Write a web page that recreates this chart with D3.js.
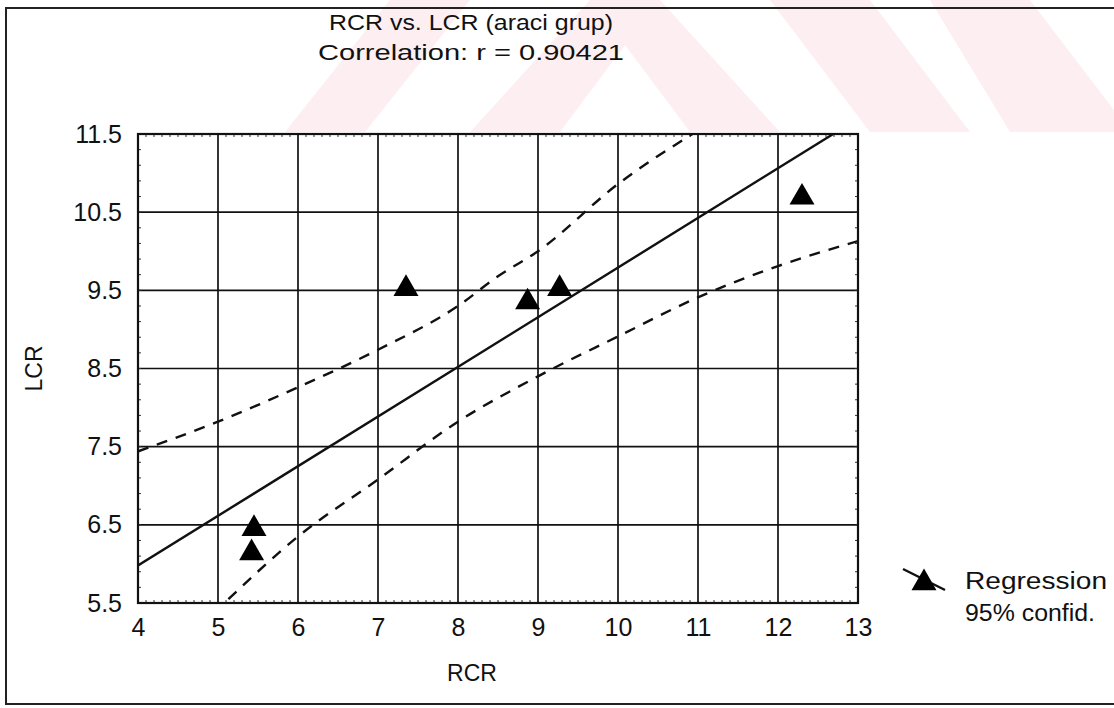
<!DOCTYPE html>
<html>
<head>
<meta charset="utf-8">
<script src="https://cdn.jsdelivr.net/npm/d3@7"></script>
<style>
  body { margin: 0; background: #fff; }
  svg text { font-family: "Liberation Sans", Arial, sans-serif; fill: #111; }
</style>
</head>
<body>
<script>
// ---------- data ----------
var rcr = [5.45, 5.42, 7.35, 8.87, 9.27, 12.3]
var lcr = [6.45, 6.14, 9.52, 9.35, 9.52, 10.69]

// regression line ends
var regX = [4, 12.69]
var regY = [5.98, 11.5]

// 95% confidence curves
var upX = [4, 5, 6, 7, 8, 8.5, 9, 10, 10.93]
var upY = [7.44, 7.82, 8.26, 8.74, 9.30, 9.68, 10.0, 10.86, 11.5]
var loX = [5.13, 6, 7, 8, 9, 10, 11, 12, 13]
var loY = [5.55, 6.35, 7.08, 7.82, 8.40, 8.91, 9.41, 9.81, 10.13]

var xTicks = [4, 5, 6, 7, 8, 9, 10, 11, 12, 13]
var yTicks = [5.5, 6.5, 7.5, 8.5, 9.5, 10.5, 11.5]

var title = 'RCR vs. LCR (araci grup)'
var subtitle = 'Correlation: r = 0.90421'
var legendLabels = ['Regression', '95% confid.']

// ---------- layout ----------
var W = 1114, H = 708
var plot = {left: 138, right: 858, top: 134, bottom: 603}
var font = '"Liberation Sans", Arial, sans-serif'

var svg = d3.select('body').append('svg')
  .attr('width', W).attr('height', H)

// faint watermark behind the top of the chart
var wm = svg.append('g').attr('fill', '#fdeff1')
var wmShapes = [
  [[285,132],[365,132],[470,0],[390,0]],
  [[470,132],[560,132],[625,45],[690,132],[780,132],[660,0],[590,0]],
  [[770,0],[870,0],[970,132],[870,132]],
  [[930,0],[1030,0],[1114,110],[1114,132],[1010,132]]
]
wmShapes.forEach(function(p){
  wm.append('polygon').attr('points', p.map(function(d){return d.join(',')}).join(' '))
})

// outer frame
svg.append('path')
  .attr('d', 'M1114,8 L6,8 L6,704 L1114,704')
  .attr('fill', 'none').attr('stroke', '#222').attr('stroke-width', 2)

var x = d3.scaleLinear().domain([4, 13]).range([plot.left, plot.right])
var y = d3.scaleLinear().domain([5.5, 11.5]).range([plot.bottom, plot.top])

svg.append('rect')
  .attr('x', plot.left).attr('y', plot.top)
  .attr('width', plot.right - plot.left).attr('height', plot.bottom - plot.top)
  .attr('fill', '#fff')

// grid
var grid = svg.append('g').attr('stroke', '#111').attr('stroke-width', 1.7)
xTicks.slice(1, -1).forEach(function(v){
  grid.append('line').attr('x1', x(v)).attr('x2', x(v)).attr('y1', plot.top).attr('y2', plot.bottom)
})
yTicks.slice(1, -1).forEach(function(v){
  grid.append('line').attr('y1', y(v)).attr('y2', y(v)).attr('x1', plot.left).attr('x2', plot.right)
})

// small inward ticks along the frame
var minor = svg.append('g').attr('stroke', '#333').attr('stroke-width', 1)
d3.range(4, 13.001, 0.1).forEach(function(v){
  minor.append('line').attr('x1', x(v)).attr('x2', x(v)).attr('y1', plot.bottom).attr('y2', plot.bottom - 3)
  minor.append('line').attr('x1', x(v)).attr('x2', x(v)).attr('y1', plot.top).attr('y2', plot.top + 3)
})
d3.range(5.5, 11.501, 0.2).forEach(function(v){
  minor.append('line').attr('y1', y(v)).attr('y2', y(v)).attr('x1', plot.left).attr('x2', plot.left + 3)
  minor.append('line').attr('y1', y(v)).attr('y2', y(v)).attr('x1', plot.right).attr('x2', plot.right - 3)
})

svg.append('rect')
  .attr('x', plot.left).attr('y', plot.top)
  .attr('width', plot.right - plot.left).attr('height', plot.bottom - plot.top)
  .attr('fill', 'none').attr('stroke', '#111').attr('stroke-width', 2.2)

// axes labels
var xAxis = d3.axisBottom(x).tickValues(xTicks).tickSize(0).tickPadding(15).tickFormat(d3.format('d'))
var gx = svg.append('g').attr('transform', 'translate(0,' + plot.bottom + ')').call(xAxis)
gx.select('.domain').remove()
gx.attr('font-size', null).attr('font-family', null)
gx.selectAll('text').style('font-size', '25px').style('font-family', font).attr('fill', '#111')

var yAxis = d3.axisLeft(y).tickValues(yTicks).tickSize(0).tickPadding(16).tickFormat(d3.format('.1f'))
var gy = svg.append('g').attr('transform', 'translate(' + plot.left + ',0)').call(yAxis)
gy.select('.domain').remove()
gy.attr('font-size', null).attr('font-family', null)
gy.selectAll('text').style('font-size', '25px').style('font-family', font).attr('fill', '#111')

// lines, clipped to the plot
svg.append('clipPath').attr('id', 'clip').append('rect')
  .attr('x', plot.left).attr('y', plot.top)
  .attr('width', plot.right - plot.left).attr('height', plot.bottom - plot.top)
var lines = svg.append('g').attr('clip-path', 'url(#clip)')

var line = d3.line().x(function(d){return x(d[0])}).y(function(d){return y(d[1])})
var curve = d3.line().curve(d3.curveMonotoneX).x(function(d){return x(d[0])}).y(function(d){return y(d[1])})

lines.append('path').datum(d3.zip(regX, regY)).attr('d', line)
  .attr('fill', 'none').attr('stroke', '#111').attr('stroke-width', 2.4)
lines.append('path').datum(d3.zip(upX, upY)).attr('d', curve)
  .attr('fill', 'none').attr('stroke', '#111').attr('stroke-width', 2.4).attr('stroke-dasharray', '11,9')
lines.append('path').datum(d3.zip(loX, loY)).attr('d', curve)
  .attr('fill', 'none').attr('stroke', '#111').attr('stroke-width', 2.4).attr('stroke-dasharray', '11,9')

// points
var tri = d3.symbol().type(d3.symbolTriangle).size(270)
svg.append('g').selectAll('path').data(d3.zip(rcr, lcr)).enter().append('path')
  .attr('d', tri)
  .attr('transform', function(d){return 'translate(' + x(d[0]) + ',' + y(d[1]) + ')'})
  .attr('fill', '#000')

// titles
svg.append('text').attr('x', 471).attr('y', 30).attr('text-anchor', 'middle')
  .style('font-size', '22px').attr('textLength', 284).attr('lengthAdjust', 'spacingAndGlyphs').text(title)
svg.append('text').attr('x', 471).attr('y', 60).attr('text-anchor', 'middle')
  .style('font-size', '22px').attr('textLength', 306).attr('lengthAdjust', 'spacingAndGlyphs').text(subtitle)

svg.append('text').attr('x', 472).attr('y', 681).attr('text-anchor', 'middle')
  .style('font-size', '23px').text('RCR')
svg.append('text').attr('transform', 'translate(42,' + ((plot.top + plot.bottom) / 2) + ') rotate(-90)')
  .attr('text-anchor', 'middle').style('font-size', '23px').text('LCR')

// legend
var lg = svg.append('g')
lg.append('line').attr('x1', 903).attr('y1', 569).attr('x2', 945).attr('y2', 590)
  .attr('stroke', '#111').attr('stroke-width', 2.5)
lg.append('path').attr('d', tri).attr('transform', 'translate(924,583)').attr('fill', '#000')
lg.selectAll('text').data(legendLabels).enter().append('text')
  .attr('x', 965).attr('y', function(d, i){return 589 + i * 32})
  .style('font-size', '23px').attr('textLength', function(d, i){return i ? 130 : 142})
  .attr('lengthAdjust', 'spacingAndGlyphs')
  .text(function(d){return d})
</script>
</body>
</html>
